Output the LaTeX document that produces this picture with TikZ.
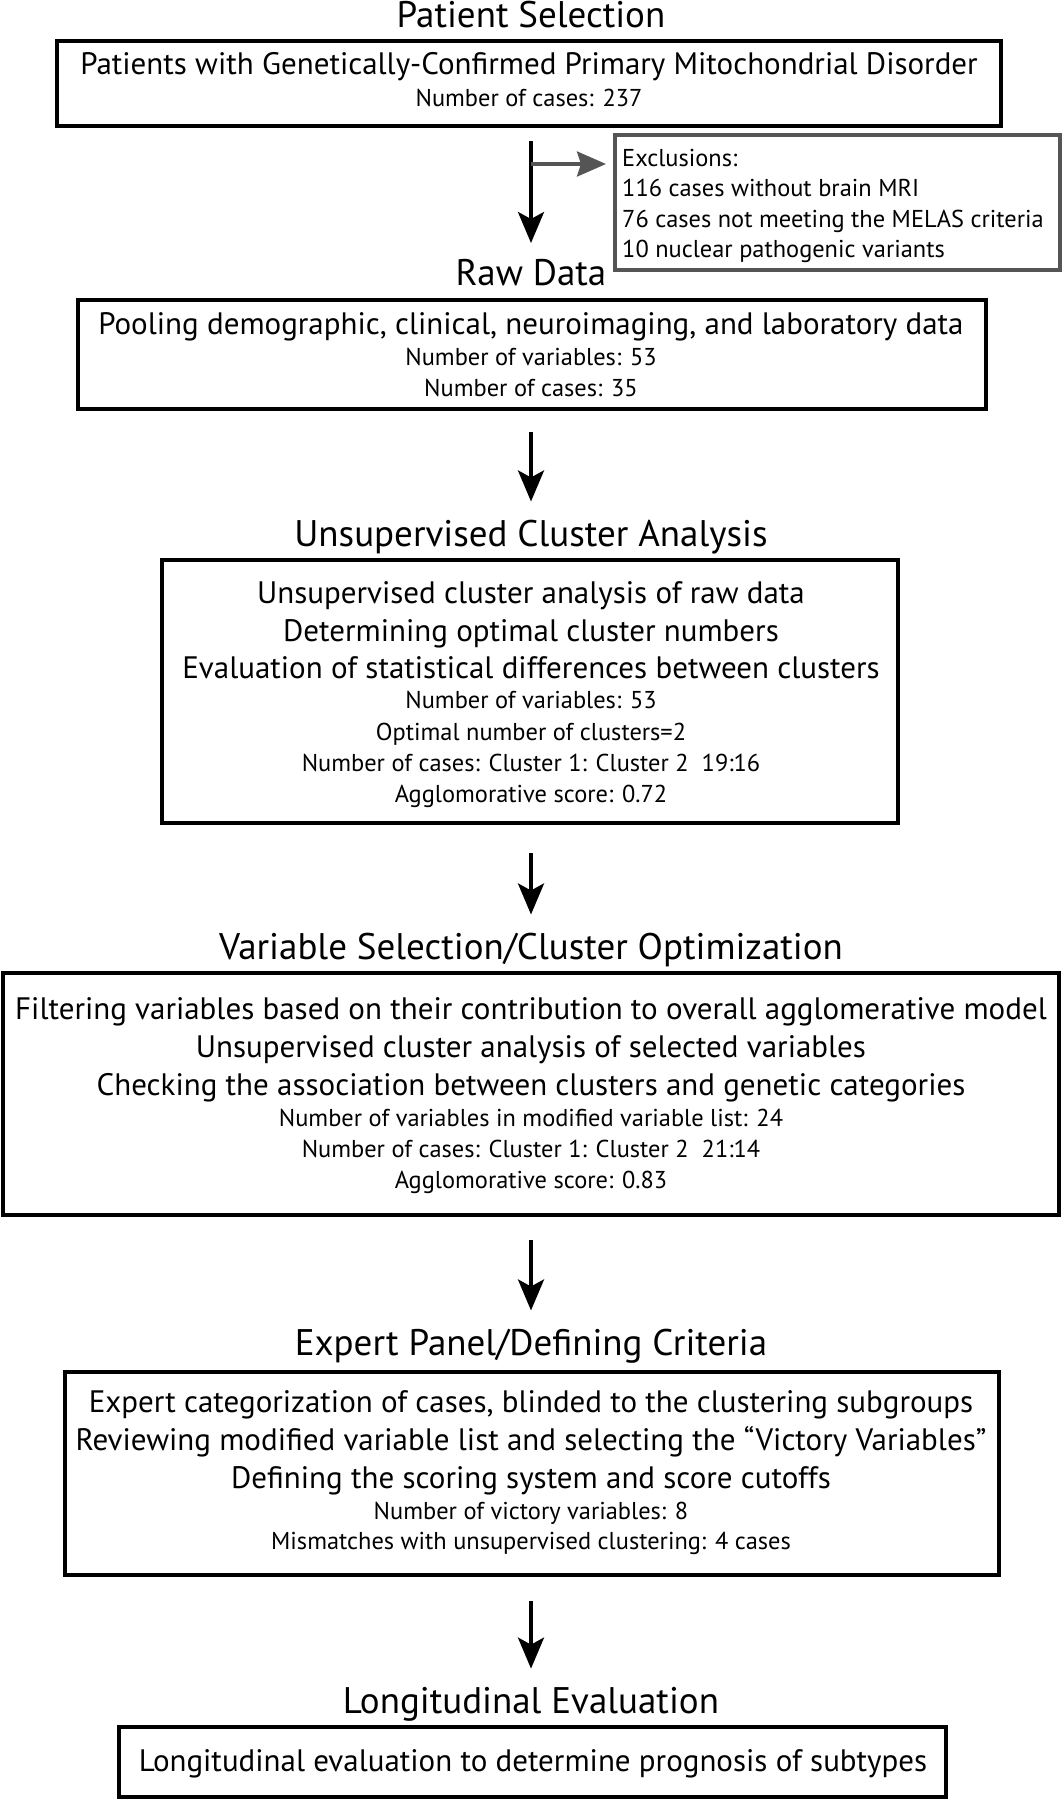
\documentclass[tikz,border=0pt]{standalone}
\usepackage{fontspec}
\setmainfont{PT Sans}
\usetikzlibrary{arrows.meta}
\definecolor{exgray}{HTML}{555555}
\begin{document}
\begin{tikzpicture}[x=1pt,y=-1pt,
  ttl/.style={font=\fontsize{37}{37}\selectfont, anchor=base, inner sep=0pt},
  mainln/.style={font=\fontsize{31}{31}\selectfont, anchor=base, inner sep=0pt},
  smallln/.style={font=\fontsize{24.4}{24.4}\selectfont, anchor=base, inner sep=0pt},
  boxx/.style={draw, line width=4pt, inner sep=0pt},
  arr/.style={line width=3.6pt, -{Stealth[length=31pt, width=26pt, inset=7pt]}},
  garr/.style={exgray, line width=3.5pt, -{Stealth[length=29pt, width=25pt, inset=4pt]}}
]
\useasboundingbox (0,0) rectangle (1062,1800);

% Boxes
\node[boxx, minimum width=944pt, minimum height=85pt] (b1) at (529,83.5) {};
\node[boxx, draw=exgray, minimum width=445pt, minimum height=135pt] (ex) at (837.5,202.5) {};
\node[boxx, minimum width=908pt, minimum height=109pt] (b2) at (532,354.5) {};
\node[boxx, minimum width=736pt, minimum height=263pt] (b3) at (530,691.5) {};
\node[boxx, minimum width=1056pt, minimum height=242pt] (b4) at (531,1094) {};
\node[boxx, minimum width=934pt, minimum height=203pt] (b5) at (532,1473.5) {};
\node[boxx, minimum width=827pt, minimum height=70pt] (b6) at (532.5,1762) {};

% Titles
\node[ttl] (t1) at (531,27) {Patient Selection};
\node[ttl] (t2) at (531,285) {Raw Data};
\node[ttl] (t3) at (531,546) {Unsupervised Cluster Analysis};
\node[ttl] (t4) at (531,959) {Variable Selection/Cluster Optimization};
\node[ttl] (t5) at (531,1355) {Expert Panel/Defining Criteria};
\node[ttl] (t6) at (531,1713) {Longitudinal Evaluation};

% Box 1
\node[mainln] (l11) at (529,74) {Patients with Genetically-Confirmed Primary Mitochondrial Disorder};
\node[smallln] (l12) at (529,106) {Number of cases: 237};

% Exclusions
\node[smallln, anchor=base west] (e1) at (622,166) {Exclusions:};
\node[smallln, anchor=base west] (e2) at (622,196) {116 cases without brain MRI};
\node[smallln, anchor=base west] (e3) at (622,227) {76 cases not meeting the MELAS criteria};
\node[smallln, anchor=base west] (e4) at (622,257) {10 nuclear pathogenic variants};

% Box 2
\node[mainln] (l21) at (531,334) {Pooling demographic, clinical, neuroimaging, and laboratory data};
\node[smallln] (l22) at (531,365) {Number of variables: 53};
\node[smallln] (l23) at (531,396) {Number of cases: 35};

% Box 3
\node[mainln] (l31) at (531,603) {Unsupervised cluster analysis of raw data};
\node[mainln] (l32) at (531,641) {Determining optimal cluster numbers};
\node[mainln] (l33) at (531,678) {Evaluation of statistical differences between clusters};
\node[smallln] (l34) at (531,708) {Number of variables: 53};
\node[smallln] (l35) at (531,740) {Optimal number of clusters=2};
\node[smallln] (l36) at (531,771) {Number of cases: Cluster 1: Cluster 2\ \ 19:16};
\node[smallln] (l37) at (531,802) {Agglomorative score: 0.72};

% Box 4
\node[mainln] (l41) at (531,1019) {Filtering variables based on their contribution to overall agglomerative model};
\node[mainln] (l42) at (531,1057) {Unsupervised cluster analysis of selected variables};
\node[mainln] (l43) at (531,1095) {Checking the association between clusters and genetic categories};
\node[smallln] (l44) at (531,1126) {Number of variables in modified variable list: 24};
\node[smallln] (l45) at (531,1157) {Number of cases: Cluster 1: Cluster 2\ \ 21:14};
\node[smallln] (l46) at (531,1188) {Agglomorative score: 0.83};

% Box 5
\node[mainln] (l51) at (531,1412) {Expert categorization of cases, blinded to the clustering subgroups};
\node[mainln] (l52) at (531,1450) {Reviewing modified variable list and selecting the “Victory Variables”};
\node[mainln] (l53) at (531,1488) {Defining the scoring system and score cutoffs};
\node[smallln] (l54) at (531,1519) {Number of victory variables: 8};
\node[smallln] (l55) at (531,1549) {Mismatches with unsupervised clustering: 4 cases};

% Box 6
\node[mainln] (l61) at (533,1771) {Longitudinal evaluation to determine prognosis of subtypes};

% Arrows
\coordinate (a1s) at (531,141);
\coordinate (a1e) at (531,243);
\coordinate (br) at (531,164);
\draw[arr] (a1s) -- (a1e);
\draw[garr, shorten >=7pt] (br) -- (br -| ex.west);
\draw[arr, shorten <=21pt, shorten >=18pt] (b2.south -| t3.north) -- (t3.north);
\draw[arr, shorten <=28pt, shorten >=18pt] (b3.south -| t4.north) -- (t4.north);
\draw[arr, shorten <=23pt, shorten >=18pt] (b4.south -| t5.north) -- (t5.north);
\draw[arr, shorten <=24pt, shorten >=18pt] (b5.south -| t6.north) -- (t6.north);
\end{tikzpicture}
\end{document}
